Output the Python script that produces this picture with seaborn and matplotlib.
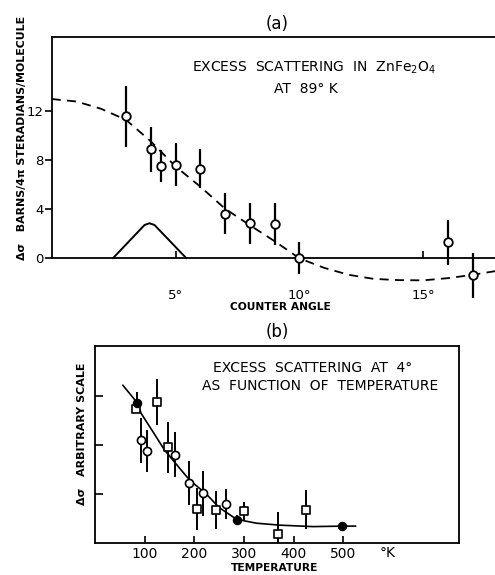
import matplotlib
matplotlib.use("Agg")
import matplotlib.pyplot as plt
import seaborn as sns
import pandas as pd

# ---------------- Panel (a) data ----------------
angle = [3, 4, 4.4, 5, 6, 7, 8, 9, 10, 16, 17]
sigma = [11.6, 8.9, 7.5, 7.65, 7.3, 3.65, 2.85, 2.8, 0.0, 1.3, -1.4]
sigma_err = [2.5, 1.85, 1.3, 1.75, 1.6, 1.7, 1.7, 1.75, 1.3, 1.85, 1.85]
curve_angle = [0, 1, 2, 3, 4, 5, 6, 7, 8, 9, 10, 11, 12, 13, 14, 15, 16, 17, 17.9]
curve_sigma = [13.0, 12.8, 12.2, 11.3, 9.55, 7.5, 5.85, 4.05, 2.7, 1.4, 0.0,
               -0.78, -1.35, -1.68, -1.78, -1.8, -1.62, -1.35, -1.05]
res_angle = [2.47, 3.75, 3.95, 4.15, 5.44]
res_height = [0, 2.72, 2.86, 2.72, 0]
a_yticks = [0, 4, 8, 12]
a_xticks = [5, 10, 15]
a_xticklabels = ["5°", "10°", "15°"]

# ---------------- Panel (b) data ----------------
filled_T = [85, 286, 498]
filled_y = [2.87, 0.465, 0.35]
filled_err = [0.22, 0.1, 0.08]
square_T = [83, 125, 146, 205, 243, 300, 369, 425]
square_y = [2.75, 2.88, 1.955, 0.70, 0.68, 0.65, 0.17, 0.68]
square_err = [0.1, 0.47, 0.52, 0.43, 0.39, 0.19, 0.45, 0.4]
circle_T = [92, 104, 162, 189, 217, 263]
circle_y = [2.10, 1.885, 1.80, 1.23, 1.01, 0.79]
circle_err = [0.46, 0.43, 0.46, 0.45, 0.47, 0.31]
fit_T = [56, 85, 93, 117, 140, 171, 191, 224, 250, 285, 325, 372, 439, 498, 525]
fit_y = [3.23, 2.87, 2.65, 2.27, 1.90, 1.52, 1.28, 1.0, 0.72, 0.48, 0.40, 0.36, 0.33, 0.34, 0.34]
b_xticks = [100, 200, 300, 400, 500]
b_yticks = [1, 2, 3]

sns.set_style("white")
plt.rcParams['font.family'] = ['DejaVu Sans']
plt.rcParams['text.color'] = 'black'
plt.rcParams['axes.labelcolor'] = 'black'
plt.rcParams['xtick.color'] = 'black'
plt.rcParams['ytick.color'] = 'black'

W, H = 495, 575
fig = plt.figure(figsize=(W / 100, H / 100), dpi=100)

# ---------- Panel (a) ----------
axa = fig.add_axes([51.7 / W, 1 - 302.4 / H, (W - 51.7) / W, 265.1 / H])
axa.set_xlim(0, 17.9)
axa.set_ylim(-3.6, 18.04)

df_curve = pd.DataFrame({"angle": curve_angle, "sigma": curve_sigma})
sns.lineplot(data=df_curve, x="angle", y="sigma", ax=axa, color="black",
             linewidth=1.3, linestyle=(0, (5, 3.5)), sort=False, zorder=2)
df_res = pd.DataFrame({"angle": res_angle, "h": res_height})
sns.lineplot(data=df_res, x="angle", y="h", ax=axa, color="black",
             linewidth=1.4, sort=False, zorder=2)

axa.errorbar(angle, sigma, yerr=sigma_err, fmt="none", ecolor="black",
             elinewidth=1.6, capsize=0, zorder=3)
df_a = pd.DataFrame({"angle": angle, "sigma": sigma})
sns.scatterplot(data=df_a, x="angle", y="sigma", ax=axa, marker="o", s=38,
                facecolor="white", edgecolor="black", linewidth=1.3, zorder=4)

axa.spines["right"].set_visible(False)
axa.spines["bottom"].set_position(("data", 0))
axa.spines["left"].set_bounds(0, 18.04)
for s in ["left", "top", "bottom"]:
    axa.spines[s].set_linewidth(1.3)
    axa.spines[s].set_color("black")

axa.set_yticks(a_yticks)
axa.set_yticklabels([str(v) for v in a_yticks])
axa.set_xticks(a_xticks)
axa.set_xticklabels(a_xticklabels)
axa.tick_params(axis="y", direction="out", length=5, width=1.2, labelsize=9.5, pad=1,
                left=True)
axa.tick_params(axis="x", direction="in", length=5, width=1.2, labelsize=9.5, pad=22,
                bottom=True)

axa.set_xlabel("COUNTER ANGLE", fontsize=7.7, fontweight="bold", va="center")
axa.xaxis.set_label_coords(0.515, -0.017)
axa.set_ylabel("Δσ   BARNS/4π STERADIANS/MOLECULE", fontsize=7.9,
               fontweight="bold", va="center")
axa.yaxis.set_label_coords(-0.067, 0.622)

axa.text(0.508, 1.05, "(a)", transform=axa.transAxes, ha="center", va="center",
         fontsize=12)
axa.text(10.6, 15.55, "EXCESS  SCATTERING  IN  ZnFe$_2$O$_4$", ha="center",
         va="center", fontsize=10)
axa.text(10.25, 13.82, "AT  89° K", ha="center", va="center", fontsize=10)

# ---------- Panel (b) ----------
axb = fig.add_axes([95 / W, 1 - 542.7 / H, 364 / W, 197 / H])
axb.set_xlim(0, 733)
axb.set_ylim(0, 4.04)

df_fit = pd.DataFrame({"T": fit_T, "y": fit_y})
sns.lineplot(data=df_fit, x="T", y="y", ax=axb, color="black", linewidth=1.2,
             sort=False, zorder=2)

axb.errorbar(circle_T, circle_y, yerr=circle_err, fmt="none", ecolor="black",
             elinewidth=1.4, capsize=0, zorder=3)
axb.errorbar(square_T, square_y, yerr=square_err, fmt="none", ecolor="black",
             elinewidth=1.4, capsize=0, zorder=3)
axb.errorbar(filled_T, filled_y, yerr=filled_err, fmt="none", ecolor="black",
             elinewidth=1.4, capsize=0, zorder=3)

sns.scatterplot(x=circle_T, y=circle_y, ax=axb, marker="o", s=34,
                facecolor="white", edgecolor="black", linewidth=1.2, zorder=4)
sns.scatterplot(x=square_T, y=square_y, ax=axb, marker="s", s=34,
                facecolor="white", edgecolor="black", linewidth=1.2, zorder=4)
sns.scatterplot(x=filled_T, y=filled_y, ax=axb, marker="o", s=34,
                facecolor="black", edgecolor="black", linewidth=1.0, zorder=5)

for s in axb.spines.values():
    s.set_linewidth(1.3)
    s.set_color("black")

axb.set_xticks(b_xticks)
axb.set_xticklabels([str(v) for v in b_xticks])
axb.set_yticks(b_yticks)
axb.set_yticklabels([])
axb.tick_params(axis="x", direction="in", length=5, width=1.2, labelsize=10, pad=3,
                bottom=True)
axb.tick_params(axis="y", direction="in", length=6, width=1.2, left=True)
axb.text(590, -0.06, "°K", ha="center", va="top", fontsize=10)

axb.set_xlabel("TEMPERATURE", fontsize=7.7, fontweight="bold", va="center")
axb.xaxis.set_label_coords(0.492, -0.128)
axb.set_ylabel("Δσ   ARBITRARY SCALE", fontsize=8.0, fontweight="bold", va="center")
axb.yaxis.set_label_coords(-0.036, 0.554)

axb.text(0.5, 1.0695, "(b)", transform=axb.transAxes, ha="center", va="center",
         fontsize=12)
axb.text(438, 3.59, "EXCESS  SCATTERING  AT  4°", ha="center", va="center",
         fontsize=10)
axb.text(453, 3.21, "AS  FUNCTION  OF  TEMPERATURE", ha="center", va="center",
         fontsize=10)

fig.savefig("out.png", dpi=100)
